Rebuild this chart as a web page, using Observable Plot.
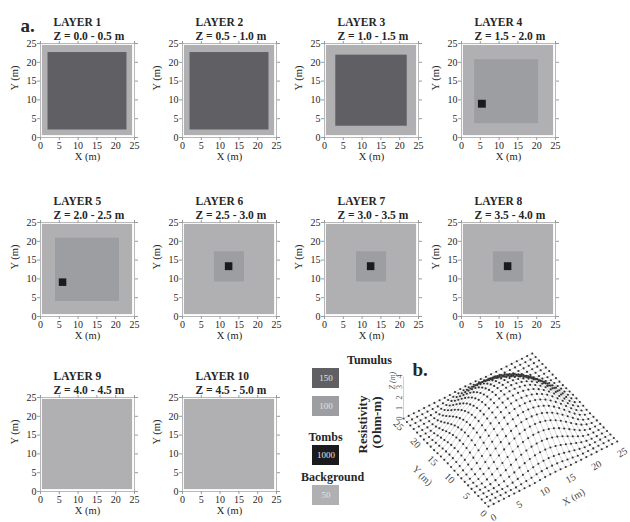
<!DOCTYPE html>
<html>
<head>
<meta charset="utf-8">
<script src="https://cdn.jsdelivr.net/npm/d3@7"></script>
<script src="https://cdn.jsdelivr.net/npm/@observablehq/plot@0.6"></script>
<style>
  body { margin: 0; background: #ffffff; }
  #chart { position: relative; width: 630px; height: 522px; background: #ffffff; overflow: hidden; }
  #chart svg { position: absolute; overflow: visible; }
</style>
</head>
<body>
<div id="chart"></div>
<script>
// ---------------- DATA ----------------
const axisTicks = [0, 5, 10, 15, 20, 25];
const layerNames = ["LAYER 1", "LAYER 2", "LAYER 3", "LAYER 4", "LAYER 5",
                    "LAYER 6", "LAYER 7", "LAYER 8", "LAYER 9", "LAYER 10"];
const layerDepths = ["Z = 0.0 - 0.5 m", "Z = 0.5 - 1.0 m", "Z = 1.0 - 1.5 m", "Z = 1.5 - 2.0 m",
                     "Z = 2.0 - 2.5 m", "Z = 2.5 - 3.0 m", "Z = 3.0 - 3.5 m", "Z = 3.5 - 4.0 m",
                     "Z = 4.0 - 4.5 m", "Z = 4.5 - 5.0 m"];
const backgroundValue = 50;
const backgroundExtent = [0.5, 24.5];
const tumulusValue = [150, 150, 150, 100, 100, 100, 100, 100, null, null];
const tumulusX = [[2, 23], [2, 23], [3, 22], [3.5, 20.5], [4, 21], [8.5, 16.5], [8.5, 16.5], [8.5, 16.5], null, null];
const tumulusY = [[2, 22.6], [2, 22.6], [3, 21.9], [3.7, 20.7], [4, 20.8], [9.2, 17.2], [9.2, 17.2], [9.2, 17.2], null, null];
const tombValue = 1000;
const tombX = [null, null, null, [4.5, 6.6], [5, 7], [11.4, 13.4], [11.4, 13.4], [11.4, 13.4], null, null];
const tombY = [null, null, null, [7.8, 9.9], [8, 10], [12.2, 14.3], [12.2, 14.3], [12.2, 14.3], null, null];

const resistivityDomain = [50, 100, 150, 1000];
const legendGroups = ["Tumulus", "Tombs", "Background"];
const legendGroupValues = [[150, 100], [1000], [50]];
const legendTitle = ["Resistivity", "(Ohm-m)"];

// 3-D surface (panel b)
const gridCoords = [0,1,2,3,4,5,6,7,8,9,10,11,12,13,14,15,16,17,18,19,20,21,22,23,24,25];
const moundCenter = [12.5, 12.5];
const moundDistance = [0, 1, 2, 3, 4, 5, 6, 7, 8, 9, 10, 11, 12, 13];
const moundHeight = [4.0, 3.97, 3.88, 3.72, 3.5, 3.2, 2.85, 2.42, 1.95, 1.45, 0.95, 0.5, 0.18, 0];
const zTicks = [0, 1, 2, 3, 4];

// ---------------- STYLE / LAYOUT ----------------
const FONT = "'Liberation Serif', 'Times New Roman', serif";
const INK = "#262626";
const TICK = "#9a9a9a";
const colorRange = ["#b0b0b2", "#9d9ea1", "#5f5f64", "#1b1b1d"];
const chart = document.getElementById("chart");

const panelLeft = [40, 182, 324, 461];
const panelTop = [43, 222, 397];
const PW = 94, PH = 94, ML = 40, MT = 43, MR = 8, MB = 29;

layerNames.forEach((name, k) => {
  const col = k % 4, row = Math.floor(k / 4);
  const cells = [{x1: backgroundExtent[0], x2: backgroundExtent[1], y1: backgroundExtent[0], y2: backgroundExtent[1], value: backgroundValue}];
  if (tumulusValue[k] != null) cells.push({x1: tumulusX[k][0], x2: tumulusX[k][1], y1: tumulusY[k][0], y2: tumulusY[k][1], value: tumulusValue[k]});
  if (tombX[k] != null) cells.push({x1: tombX[k][0], x2: tombX[k][1], y1: tombY[k][0], y2: tombY[k][1], value: tombValue});
  const marks = [
    Plot.rect(cells, {x1: "x1", x2: "x2", y1: "y1", y2: "y2", fill: "value"}),
    Plot.frame({stroke: "#b8b8b8"}),
    Plot.axisX(axisTicks, {anchor: "bottom", tickSize: 3, tickPadding: 1, stroke: TICK, fill: INK, label: null, fontSize: 10}),
    Plot.axisX(axisTicks, {anchor: "top", tickSize: 3, stroke: TICK, fill: "none", label: null}),
    Plot.axisY(axisTicks, {anchor: "left", tickSize: 3, tickPadding: 1, stroke: TICK, fill: INK, label: null, fontSize: 10}),
    Plot.axisY(axisTicks, {anchor: "right", tickSize: 3, stroke: TICK, fill: "none", label: null}),
    Plot.text([name], {text: d => d, frameAnchor: "top-left", dx: 13, dy: -26, textAnchor: "start", fontWeight: "bold", fontSize: 11.5, fill: INK}),
    Plot.text([layerDepths[k]], {text: d => d, frameAnchor: "top-left", dx: 13, dy: -12, textAnchor: "start", fontWeight: "bold", fontSize: 11.5, fill: INK}),
    Plot.text(["X (m)"], {text: d => d, frameAnchor: "bottom", dy: 22, fontSize: 10.5, fill: INK}),
    Plot.text(["Y (m)"], {text: d => d, frameAnchor: "left", dx: -26, rotate: -90, fontSize: 10.5, fill: INK})
  ];
  if (k === 0) marks.push(Plot.text(["a."], {text: d => d, frameAnchor: "top-left", dx: -20, dy: -25, textAnchor: "start", fontWeight: "bold", fontSize: 19, fill: INK}));
  const svg = Plot.plot({
    width: ML + PW + MR, height: MT + PH + MB,
    marginLeft: ML, marginTop: MT, marginRight: MR, marginBottom: MB,
    style: {fontFamily: FONT, fontSize: "10px", color: INK, background: "transparent", overflow: "visible"},
    x: {domain: [0, 25]},
    y: {domain: [0, 25]},
    color: {type: "ordinal", domain: resistivityDomain, range: colorRange},
    marks
  });
  svg.style.position = "absolute";
  svg.style.left = (panelLeft[col] - ML) + "px";
  svg.style.top = (panelTop[row] - MT) + "px";
  chart.append(svg);
});

// ---------------- Legend + 3-D surface ----------------
const BX0 = 295, BY0 = 338, BW = 630 - BX0, BH = 522 - BY0;
const O = [488, 506], EX = [5.15, -2.6], EY = [-3.4, -3.52], EZ = 10.5;
const proj = (gx, gy, gz) => [O[0] + gx * EX[0] + gy * EY[0], O[1] + gx * EX[1] + gy * EY[1] - gz * EZ];
const moundZ = (gx, gy) => {
  const d = Math.hypot(gx - moundCenter[0], gy - moundCenter[1]);
  const n = moundDistance.length - 1;
  if (d >= moundDistance[n]) return moundHeight[n];
  const i = d3.bisectRight(moundDistance, d) - 1;
  const t = (d - moundDistance[i]) / (moundDistance[i + 1] - moundDistance[i]);
  return moundHeight[i] * (1 - t) + moundHeight[i + 1] * t;
};
const nodes = [];
for (const gy of gridCoords) for (const gx of gridCoords) {
  const [sx, sy] = proj(gx, gy, moundZ(gx, gy));
  nodes.push({gx, gy, sx, sy});
}

// legend layout
const headingX = [369, 325, 332];
const headingY = [360, 437, 477];
const boxX = [312, 339];
const legendBoxes = [], legendHeads = [];
legendGroups.forEach((g, i) => {
  legendHeads.push({label: g, x: headingX[i], y: headingY[i]});
  legendGroupValues[i].forEach((v, j) => {
    const top = headingY[i] + 8 + j * 28;
    legendBoxes.push({value: v, x1: boxX[0], x2: boxX[1], y1: top, y2: top + 20});
  });
});

const zAxisBase = proj(0, 25, 0), zAxisTop = proj(0, 25, zTicks[zTicks.length - 1]);

const svgB = Plot.plot({
  width: BW, height: BH, margin: 0,
  style: {fontFamily: FONT, fontSize: "10px", color: INK, background: "transparent", overflow: "visible"},
  x: {domain: [BX0, 630], range: [0, BW], axis: null},
  y: {domain: [BY0, 522], range: [0, BH], axis: null},
  color: {type: "ordinal", domain: resistivityDomain, range: colorRange},
  marks: [
    // legend
    Plot.rect(legendBoxes, {x1: "x1", x2: "x2", y1: "y1", y2: "y2", fill: "value"}),
    Plot.text(legendBoxes, {x: d => (d.x1 + d.x2) / 2, y: d => (d.y1 + d.y2) / 2, text: d => String(d.value), fill: "#e2e2e2", fontSize: 9}),
    Plot.text(legendHeads, {x: "x", y: "y", text: "label", fontWeight: "bold", fontSize: 12, fill: INK}),
    Plot.text([legendTitle[0]], {text: d => d, x: 362, y: 424, rotate: -90, fontWeight: "bold", fontSize: 13, fill: INK}),
    Plot.text([legendTitle[1]], {text: d => d, x: 376, y: 422, rotate: -90, fontWeight: "bold", fontSize: 13, fill: INK}),
    // 3-D wireframe
    Plot.line(nodes, {x: "sx", y: "sy", z: d => "r" + d.gy, stroke: "#b4b4b4", strokeWidth: 0.5}),
    Plot.line(nodes, {x: "sx", y: "sy", z: d => "c" + d.gx, stroke: "#b4b4b4", strokeWidth: 0.5}),
    Plot.dot(nodes, {x: "sx", y: "sy", r: 1.05, fill: "#333333", stroke: "none"}),
    // z axis
    Plot.link([0], {x1: () => zAxisBase[0], y1: () => zAxisBase[1], x2: () => zAxisTop[0], y2: () => zAxisTop[1], stroke: "#b0b0b0", strokeWidth: 0.6}),
    Plot.text(zTicks, {x: v => proj(0, 25, v)[0], y: v => proj(0, 25, v)[1], text: v => String(v), dx: -4, rotate: -90, fontSize: 8, fill: "#555"}),
    Plot.text(["Z (m)"], {text: d => d, x: () => proj(0, 25, 3.6)[0], y: () => proj(0, 25, 3.6)[1], dx: -11, rotate: -90, fontSize: 8, fontStyle: "italic", fill: "#555"}),
    // y axis ticks (left edge)
    Plot.text(axisTicks, {x: v => proj(0, v, 0)[0], y: v => proj(0, v, 0)[1], text: v => String(v), dx: -5, dy: 7, rotate: 45, fontSize: 10, fill: "#444"}),
    Plot.text(["Y (m)"], {text: d => d, x: () => proj(0, 13, 0)[0], y: () => proj(0, 13, 0)[1], dx: -22, dy: 15, rotate: 45, fontSize: 10, fill: "#444"}),
    // x axis ticks (front edge)
    Plot.text(axisTicks, {x: v => proj(v, 0, 0)[0], y: v => proj(v, 0, 0)[1], text: v => String(v), dx: 5, dy: 11, rotate: -30, fontSize: 10, fill: "#444"}),
    Plot.text(["X (m)"], {text: d => d, x: () => proj(14, 0, 0)[0], y: () => proj(14, 0, 0)[1], dx: 13, dy: 27, rotate: -30, fontSize: 10, fill: "#444"}),
    Plot.text(["b."], {text: d => d, x: 412, y: 369, textAnchor: "start", fontWeight: "bold", fontSize: 19, fill: INK})
  ]
});
svgB.style.position = "absolute";
svgB.style.left = BX0 + "px";
svgB.style.top = BY0 + "px";
chart.append(svgB);
</script>
</body>
</html>
